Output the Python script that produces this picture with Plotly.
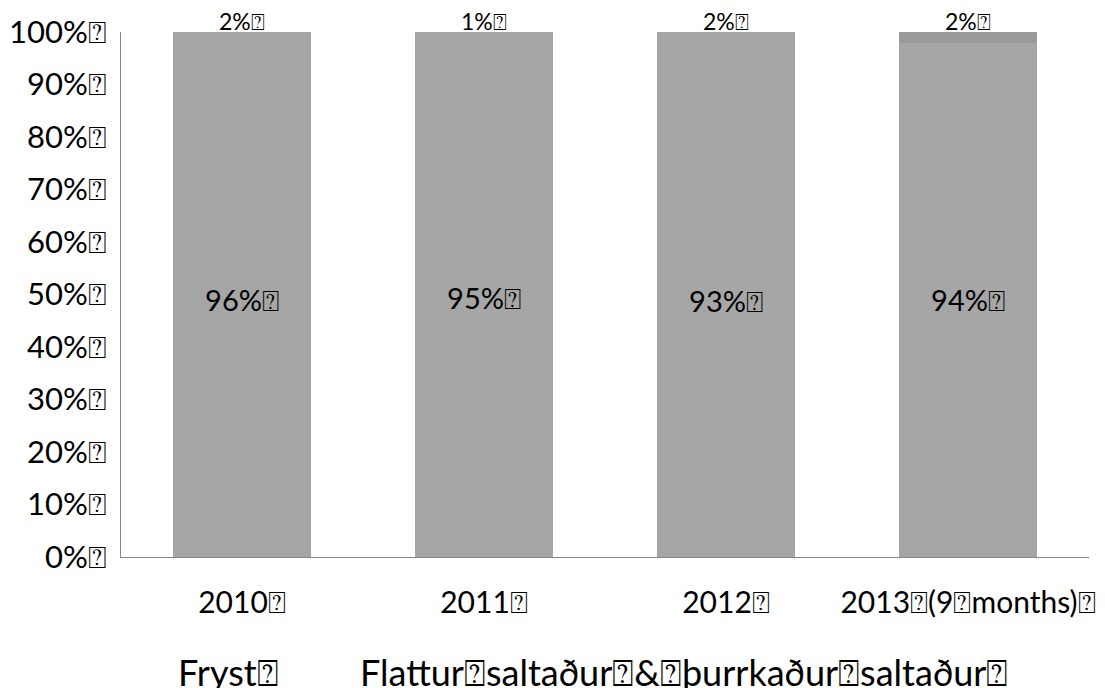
import plotly.graph_objects as go

T = "\u2370"  # missing-glyph box as shown in the reference

categories = ["2010" + T, "2011" + T, "2012" + T, "2013" + T + "(9" + T + "months)" + T]
fryst = [96, 95, 93, 94]
saltad = [2, 1, 2, 2]
series_names = ["Fryst" + T, "Flattur" + T + "saltaður" + T + "&" + T + "þurrkaður" + T + "saltaður" + T]
y_ticks = [0, 10, 20, 30, 40, 50, 60, 70, 80, 90, 100]
y_tick_labels = [f"{v}%" + T for v in y_ticks]

FONT = "Lato, 'Open Sans', sans-serif"
GRAY = "#a6a6a6"
EDGE = dict(color=GRAY, width=0)

fig = go.Figure()
fig.add_trace(go.Bar(
    x=categories, y=fryst, name=series_names[0], marker=dict(color=GRAY, line=EDGE),
    text=[f"{v}%" + T for v in fryst], textposition="inside",
    insidetextanchor="middle", textangle=0,
    textfont=dict(size=29, color="black", family=FONT), showlegend=False,
))
fig.add_trace(go.Bar(
    x=categories, y=saltad, name=series_names[1],
    marker=dict(color=[GRAY, GRAY, GRAY, "#999999"], line=EDGE),
    showlegend=False,
))
# value labels of the top segment, sitting on top of each 100% bar
for c, v in zip(categories, saltad):
    fig.add_annotation(x=c, y=100, xref="x", yref="y", text=f"{v}%" + T,
                       showarrow=False, yanchor="bottom", yshift=-5,
                       font=dict(size=23, color="black", family=FONT))

# legend entries (the reference shows names without colour keys)
fig.add_trace(go.Bar(x=[None], y=[None], name=series_names[0], legend="legend",
                     marker=dict(color="rgba(0,0,0,0)", line=dict(width=0))))
fig.add_trace(go.Bar(x=[None], y=[None], name=series_names[1], legend="legend2",
                     marker=dict(color="rgba(0,0,0,0)", line=dict(width=0))))

leg_common = dict(orientation="h", xanchor="left", y=-0.219, yanchor="middle",
                  font=dict(size=36, family=FONT), itemwidth=30, bgcolor="rgba(0,0,0,0)")

fig.update_layout(
    barmode="stack", barnorm="percent", bargap=0.43,
    width=1097, height=680,
    margin=dict(l=113, r=16, t=24, b=131, autoexpand=False),
    paper_bgcolor="white", plot_bgcolor="white",
    font=dict(family=FONT, color="black"),
    legend=dict(x=0.0176, **leg_common),
    legend2=dict(x=0.2056, **leg_common),
    xaxis=dict(showline=True, linecolor="#868686", linewidth=1, ticks="",
               tickfont=dict(size=30, family=FONT), ticklabelstandoff=19,
               showgrid=False, range=[-0.5, 3.5]),
    yaxis=dict(showline=True, linecolor="#868686", linewidth=1, ticks="",
               range=[0, 100], tickvals=y_ticks, ticktext=y_tick_labels,
               tickfont=dict(size=31, family=FONT), ticklabelstandoff=7,
               showgrid=False, zeroline=False),
)

fig.write_html("out.html")
